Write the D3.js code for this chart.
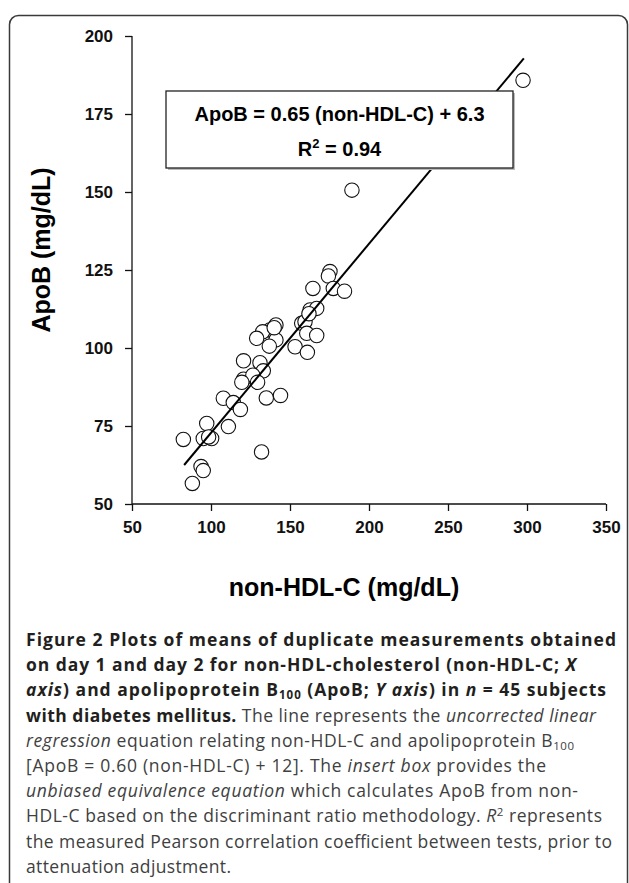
<!DOCTYPE html>
<html>
<head>
<meta charset="utf-8">
<script src="https://cdn.jsdelivr.net/npm/d3@7"></script>
<style>
  html, body { margin: 0; padding: 0; background: #fff; }
  svg { display: block; }
</style>
</head>
<body>
<svg id="chart" width="629" height="883"></svg>
<script>
// ---- data ----
const nonHDL = [82.5, 97.3, 95.1, 100.4, 93.7, 95.1, 88.2, 111.0, 107.8, 114.1,
  118.6, 120.6, 120.6, 175.3, 174.3, 177.4, 164.5, 184.5, 162.7, 166.9,
  157.4, 159.5, 160.6, 166.9, 153.2, 161.0, 141.1, 137.3, 132.7, 128.9,
  141.1, 136.9, 131.0, 133.1, 126.5, 129.5, 135.0, 144.0, 132.0, 189.2,
  297.5, 98.5, 119.5, 140.0, 162.0];
const apoB = [70.7, 75.8, 71.0, 71.0, 62.0, 60.7, 56.6, 74.8, 83.9, 82.5,
  80.3, 95.9, 90.0, 124.5, 123.1, 119.1, 119.1, 118.2, 112.2, 112.7,
  107.9, 108.4, 104.7, 104.0, 100.4, 98.6, 107.4, 105.8, 105.2, 103.1,
  102.6, 100.6, 95.3, 92.7, 91.3, 89.0, 84.0, 84.8, 66.7, 150.6,
  185.8, 71.5, 89.0, 106.5, 111.0];
// regression line end points (non-HDL-C, ApoB)
const lineX = [83, 298];
const lineY = [62.5, 192.8];
const xTicks = [50, 100, 150, 200, 250, 300, 350];
const yTicks = [50, 75, 100, 125, 150, 175, 200];
const eqLine1 = "ApoB = 0.65 (non-HDL-C) + 6.3";
const eqR2 = "0.94";

const svg = d3.select("#chart");
const AX = "'Liberation Sans', Arial, sans-serif";

// frame
svg.append("rect").attr("x", 9.5).attr("y", 15.5).attr("width", 618).attr("height", 920)
  .attr("rx", 9).attr("fill", "none").attr("stroke", "#3a3a3a").attr("stroke-width", 1.5);

const x = d3.scaleLinear().domain([50, 350]).range([132, 606]);
const y = d3.scaleLinear().domain([50, 200]).range([504, 36]);

const gx = svg.append("g").attr("transform", "translate(0,504)")
  .call(d3.axisBottom(x).tickValues(xTicks).tickSize(7).tickPadding(10).tickFormat(d3.format("d")));
const gy = svg.append("g").attr("transform", "translate(132,0)")
  .call(d3.axisLeft(y).tickValues(yTicks).tickSize(7).tickPadding(12).tickFormat(d3.format("d")));
[gx, gy].forEach(g => {
  g.select(".domain").attr("stroke", "#111").attr("stroke-width", 1.3);
  g.selectAll(".tick line").attr("stroke", "#111").attr("stroke-width", 1.3);
  g.selectAll(".tick text").attr("font-family", AX).attr("font-weight", "bold")
    .attr("font-size", 17).attr("fill", "#111");
});
gx.select(".domain").attr("d", "M132,0H606");
gy.select(".domain").attr("d", "M0,504V36");

// points
const pts = nonHDL.map((v, i) => [v, apoB[i]]);
svg.append("g").selectAll("circle").data(pts).join("circle")
  .attr("cx", d => x(d[0])).attr("cy", d => y(d[1])).attr("r", 7.2)
  .attr("fill", "#fff").attr("stroke", "#111").attr("stroke-width", 1.1);

// regression line
svg.append("line")
  .attr("x1", x(lineX[0])).attr("y1", y(lineY[0]))
  .attr("x2", x(lineX[1])).attr("y2", y(lineY[1]))
  .attr("stroke", "#000").attr("stroke-width", 2);

// equation box
svg.append("rect").attr("x", 168).attr("y", 93).attr("width", 347).attr("height", 77)
  .attr("fill", "#bbb");
svg.append("rect").attr("x", 166).attr("y", 91).attr("width", 347).attr("height", 77)
  .attr("fill", "#fff").attr("stroke", "#222").attr("stroke-width", 1.3);
svg.append("text").attr("x", 339.5).attr("y", 121).attr("text-anchor", "middle")
  .attr("font-family", AX).attr("font-weight", "bold").attr("font-size", 20).attr("fill", "#000")
  .text(eqLine1);
const r2 = svg.append("text").attr("x", 339.5).attr("y", 156).attr("text-anchor", "middle")
  .attr("font-family", AX).attr("font-weight", "bold").attr("font-size", 20).attr("fill", "#000");
r2.append("tspan").text("R");
r2.append("tspan").attr("dy", -8).attr("font-size", 13).text("2");
r2.append("tspan").attr("dy", 8).text(" = " + eqR2);

// axis titles
svg.append("text").attr("transform", "translate(50,250) rotate(-90)").attr("text-anchor", "middle")
  .attr("font-family", AX).attr("font-weight", "bold").attr("font-size", 25).attr("fill", "#000")
  .text("ApoB (mg/dL)");
svg.append("text").attr("x", 344).attr("y", 596).attr("text-anchor", "middle")
  .attr("font-family", AX).attr("font-weight", "bold").attr("font-size", 25).attr("fill", "#000")
  .text("non-HDL-C (mg/dL)");

// caption
const CF = "'Open Sans', 'Noto Sans', sans-serif";
const B = "#231f20", R = "#404040";
// style codes: b = bold, i = italic, s = subscript, u = superscript
const caption = [
  {w: 590, parts: [["Figure 2 Plots of means of duplicate measurements obtained", "b"]]},
  {w: 550, parts: [["on day 1 and day 2 for non-HDL-cholesterol (non-HDL-C; ", "b"], ["X", "bi"]]},
  {w: 580, parts: [["axis", "bi"], [") and apolipoprotein B", "b"], ["100", "bs"], [" (ApoB; ", "b"], ["Y axis", "bi"], [") in ", "b"], ["n", "bi"], [" = 45 subjects", "b"]]},
  {w: 570, parts: [["with diabetes mellitus.", "b"], [" The line represents the ", ""], ["uncorrected linear", "i"]]},
  {w: 548, parts: [["regression", "i"], [" equation relating non-HDL-C and apolipoprotein B", ""], ["100", "s"]]},
  {w: 520, parts: [["[ApoB = 0.60 (non-HDL-C) + 12]. The ", ""], ["insert box", "i"], [" provides the", ""]]},
  {w: 552, parts: [["unbiased equivalence equation", "i"], [" which calculates ApoB from non-", ""]]},
  {w: 576, parts: [["HDL-C based on the discriminant ratio methodology. ", ""], ["R", "i"], ["2", "u"], [" represents", ""]]},
  {w: 586, parts: [["the measured Pearson correlation coefficient between tests, prior to", ""]]},
  {w: 205, parts: [["attenuation adjustment.", ""]]}
];
const capG = svg.append("g");
caption.forEach((ln, i) => {
  const t = capG.append("text").attr("x", 26).attr("y", 646 + i * 25.2)
    .attr("font-family", CF).attr("font-size", 17.5).attr("fill", R);
  let shifted = 0;
  ln.parts.forEach(([s, st]) => {
    const sp = t.append("tspan").text(s);
    const bold = st.includes("b"), ital = st.includes("i");
    sp.attr("font-weight", bold ? "bold" : "normal").attr("font-style", ital ? "italic" : "normal")
      .attr("fill", bold ? B : R);
    let dy = 0;
    if (st.includes("s")) { dy = 3; sp.attr("font-size", 11.5); }
    else if (st.includes("u")) { dy = -6; sp.attr("font-size", 11.5); }
    sp.attr("dy", dy - shifted);
    shifted = dy;
  });
  const nat = t.node().getComputedTextLength();
  if (nat > 0 && Math.abs(nat - ln.w) / ln.w < 0.2) {
    t.attr("textLength", ln.w).attr("lengthAdjust", "spacing");
  }
});
</script>
</body>
</html>
